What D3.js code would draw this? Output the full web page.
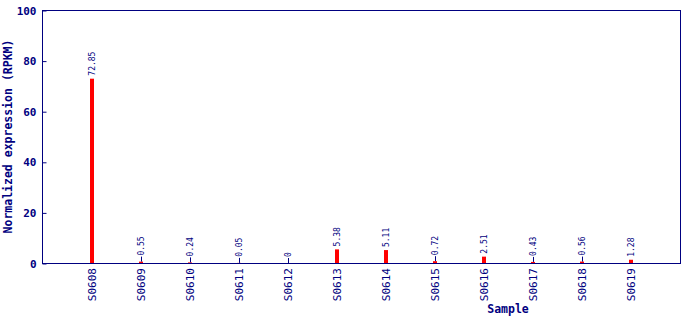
<!DOCTYPE html>
<html lang="en">
<head>
    <meta charset="UTF-8">
    <title>Expression</title>
    <style>
        body { margin: 0; background: #fff; }
        text { font-family: "DejaVu Sans Mono", monospace; fill: #000080; }
    </style>
</head>
<body>
    <svg class="chart-svg" width="690" height="320"></svg>
    <script src="https://d3js.org/d3.v7.min.js"></script>
    <script>
        // data
        var samples = ["S0608", "S0609", "S0610", "S0611", "S0612", "S0613",
                       "S0614", "S0615", "S0616", "S0617", "S0618", "S0619"];
        var values = [72.85, 0.55, 0.24, 0.05, 0, 5.38, 5.11, 0.72, 2.51, 0.43, 0.56, 1.28];
        var yTicks = [0, 20, 40, 60, 80, 100];

        var navy = "#000080";
        var svg = d3.select(".chart-svg");
        var plotL = 42, plotR = 680, plotT = 10, plotB = 263;

        var x = d3.scalePoint().domain(samples).range([43, plotR]).padding(1);
        var y = d3.scaleLinear().domain([0, 100]).range([plotB, plotT]);

        // frame
        svg.append("rect")
            .attr("x", plotL + 0.5).attr("y", plotT + 0.5)
            .attr("width", plotR - plotL).attr("height", plotB - plotT)
            .attr("fill", "none").attr("stroke", navy).attr("stroke-width", 1);

        // y axis (ticks inward)
        var yAxis = svg.append("g")
            .attr("transform", "translate(" + (plotL + 0.5) + ",0.5)")
            .call(d3.axisRight(y).tickValues(yTicks).tickSize(4).tickFormat(d3.format("d")));
        yAxis.select(".domain").remove();
        yAxis.selectAll("line").attr("stroke", navy);
        yAxis.selectAll("text")
            .attr("x", -6).attr("text-anchor", "end")
            .style("font-size", "11px").style("font-weight", "bold")
            .attr("fill", navy);

        // x axis labels
        var xAxis = svg.append("g")
            .attr("transform", "translate(0," + plotB + ")")
            .call(d3.axisBottom(x).tickSize(0));
        xAxis.select(".domain").remove();
        xAxis.selectAll("text")
            .attr("transform", "rotate(-90)")
            .attr("x", -5).attr("y", 0).attr("dy", "0.35em")
            .attr("text-anchor", "end")
            .style("font-size", "11px")
            .attr("fill", navy);

        // bars
        var data = samples.map(function (s, i) { return { s: s, v: values[i] }; });
        svg.selectAll("rect.bar")
            .data(data)
            .enter()
            .append("rect")
            .attr("class", "bar")
            .attr("x", d => x(d.s) - 2)
            .attr("y", d => y(d.v))
            .attr("width", 4)
            .attr("height", d => plotB - y(d.v))
            .attr("fill", "#ff0000");

        // short stems on small values
        svg.selectAll("line.stem")
            .data(data.filter(d => d.v < 1))
            .enter()
            .append("line")
            .attr("class", "stem")
            .attr("x1", d => x(d.s) + 0.5).attr("x2", d => x(d.s) + 0.5)
            .attr("y1", d => y(d.v)).attr("y2", d => y(d.v) - 5)
            .attr("stroke", navy).attr("stroke-width", 1);

        // value labels
        svg.selectAll("text.val")
            .data(data)
            .enter()
            .append("text")
            .attr("class", "val")
            .attr("transform", d => "translate(" + (x(d.s) + 3) + "," + (y(d.v) - (d.v < 1 ? 6 : 3)) + ") rotate(-90)")
            .attr("text-anchor", "start")
            .style("font-size", "8px")
            .text(d => String(d.v));

        // axis titles
        svg.append("text")
            .attr("transform", "translate(12," + ((plotT + plotB) / 2) + ") rotate(-90)")
            .attr("text-anchor", "middle")
            .style("font-size", "11.5px").style("font-weight", "bold")
            .text("Normalized expression (RPKM)");

        svg.append("text")
            .attr("x", 508).attr("y", 313)
            .attr("text-anchor", "middle")
            .style("font-size", "11.5px").style("font-weight", "bold")
            .text("Sample");
    </script>
</body>
</html>
